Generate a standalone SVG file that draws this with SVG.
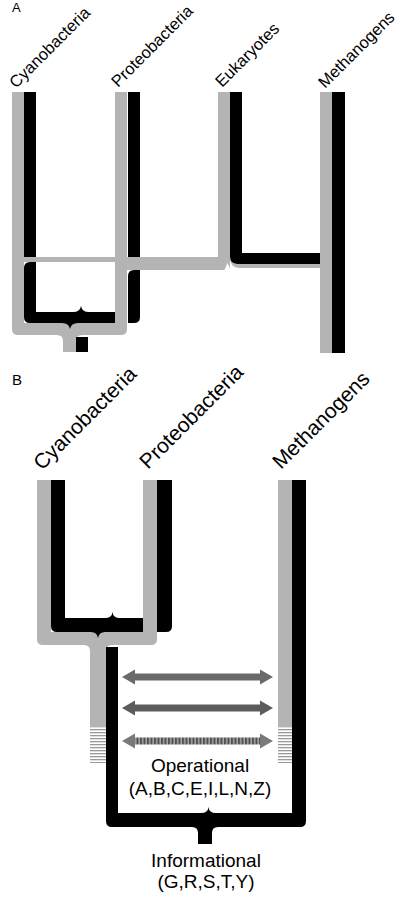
<svg xmlns="http://www.w3.org/2000/svg" width="409" height="900" viewBox="0 0 409 900">
<style>
text{font-family:"Liberation Sans",Arial,sans-serif;fill:#000}
.g{fill:#b4b4b4}
.k{fill:#000}
.la{font-size:16.5px}
.lb{font-size:21px}
.cap{font-size:19px;text-anchor:middle}
</style>
<defs>
<pattern id="hatch" width="4" height="3" patternUnits="userSpaceOnUse">
<rect width="4" height="3" fill="#fff"/>
<rect width="4" height="1.3" fill="#9a9a9a"/>
</pattern>
<pattern id="dash" width="3.5" height="4" patternUnits="userSpaceOnUse">
<rect width="3.5" height="4" fill="#a8a8a8"/>
<rect width="2" height="4" fill="#505050"/>
</pattern>
</defs>
<rect width="409" height="900" fill="#fff"/>

<g id="panel-a">
<text x="12" y="12" style="font-size:13px">A</text>
<g id="a-cyanobacteria"><text class="la" x="16" y="89" transform="rotate(-45 16 89)">Cyanobacteria</text></g>
<g id="a-proteobacteria"><text class="la" x="118" y="88" transform="rotate(-45 118 88)">Proteobacteria</text></g>
<g id="a-eukaryotes"><text class="la" x="222" y="88" transform="rotate(-45 222 88)">Eukaryotes</text></g>
<g id="a-methanogens"><text class="la" x="325" y="89" transform="rotate(-45 325 89)">Methanogens</text></g>
</g>

<g id="connectors">
<path class="g" d="M12,92 H24 V323 H115 V92 H127 V329 Q127,335 121,335 H82 Q76,335 76,341 V352 H63 V341 Q63,335 57,335 H18 Q12,335 12,329 Z"/>
<rect class="k" x="76" y="337" width="12" height="15"/>
<rect class="k" x="24" y="92" width="12" height="165"/>
<path class="k" d="M24,268 Q24,262 30,262 H36 V312 H73 Q80,312 81,306 Q82,312 89,312 H115 V323 H78 Q71,323 70,329 Q69,323 62,323 H30 Q24,323 24,317 Z"/>
<rect class="k" x="128" y="92" width="12" height="165"/>
<path class="k" d="M128,276 Q128,270 134,270 H140 V317 Q140,323 134,323 H128 Z"/>
<rect class="g" x="24" y="257" width="100" height="5"/>
<path class="g" d="M218,92 H230 V270 H115 V257 H218 Z"/>
<path class="k" d="M230,92 H242 V253 H320 V264 H237 Q230,264 230,257 Z"/>
<path class="g" d="M230,257 Q230,268 240,268 H320 V264 H237 Q230,264 230,257 Z"/>
<path fill="#fff" d="M224,271 L227.5,263 L231,271 Z"/>
<rect class="g" x="320" y="92" width="12" height="261"/>
<rect class="k" x="332" y="92" width="13" height="261"/>

<path class="g" d="M37,480 H51 V632 H143 V480 H157 V639 Q157,645 151,645 H112 Q106,645 106,651 V727 H90 V651 Q90,645 84,645 H43 Q37,645 37,639 Z"/>
<rect x="90" y="727" width="16" height="36" fill="url(#hatch)"/>
<path class="k" d="M51,480 H65 V618 H105 Q112,618 112.5,612 Q113,618 120,618 H143 V632 H105 Q99,632 98,638 Q97,632 91,632 H57 Q51,632 51,626 Z"/>
<path class="k" d="M157,480 H172 V626 Q172,632 166,632 H157 Z"/>
<rect class="g" x="278" y="480" width="14" height="247"/>
<rect x="278" y="727" width="14" height="36" fill="url(#hatch)"/>
<path class="k" d="M106,647 H118 V813 H201 Q208,813 208.5,807 Q209,813 216,813 H292 V480 H306 V821 Q306,827 300,827 H218 Q212,827 212,833 V844 H198 V833 Q198,827 192,827 H112 Q106,827 106,821 Z"/>

<path fill="#6a6a6a" d="M122,677 L135,669.5 L135,673.5 L260,673.5 L260,669.5 L273,677 L260,684.5 L260,680.5 L135,680.5 L135,684.5 Z"/>
<path fill="#5c5c5c" d="M122,708 L135,700.5 L135,704.5 L260,704.5 L260,700.5 L273,708 L260,715.5 L260,711.5 L135,711.5 L135,715.5 Z"/>
<rect x="135" y="737.5" width="125" height="7" fill="url(#dash)"/>
<path fill="#7a7a7a" d="M122,741 L135,733.5 L135,748.5 Z M273,741 L260,733.5 L260,748.5 Z"/>
</g>

<g id="panel-b">
<text x="12" y="385" style="font-size:15px">B</text>
<g id="b-cyanobacteria"><text class="lb" x="42" y="471" transform="rotate(-45 42 471)">Cyanobacteria</text></g>
<g id="b-proteobacteria"><text class="lb" x="148" y="470" transform="rotate(-45 148 470)">Proteobacteria</text></g>
<g id="b-methanogens"><text class="lb" x="281" y="470" transform="rotate(-45 281 470)">Methanogens</text></g>
<g id="operational">
<text class="cap" x="200" y="772">Operational</text>
<text class="cap" x="200" y="795">(A,B,C,E,I,L,N,Z)</text>
</g>
<g id="informational">
<text class="cap" x="206" y="867">Informational</text>
<text class="cap" x="206" y="888">(G,R,S,T,Y)</text>
</g>
</g>
</svg>
